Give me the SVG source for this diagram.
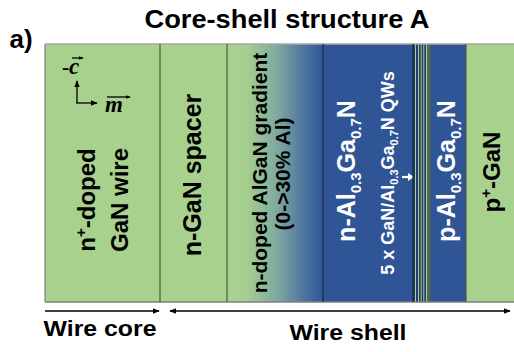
<svg xmlns="http://www.w3.org/2000/svg" width="514" height="352" viewBox="0 0 514 352">
<style>
.t{font-family:"Liberation Sans",Arial,sans-serif;font-weight:bold;text-anchor:middle}
.k{fill:#000}
.w{fill:#fff}
.m{font-family:"Liberation Serif","Times New Roman",serif;font-style:italic;font-weight:bold;fill:#000}
.green{fill:#a9d18e}
.blue{fill:#2f5597}
.conn{stroke:#000;stroke-width:1.3;fill:none}
</style>
<defs>
<linearGradient id="grad" x1="0" y1="0" x2="1" y2="0">
<stop offset="0" stop-color="#a9d18e"/>
<stop offset="0.2" stop-color="#a6cf90"/>
<stop offset="0.52" stop-color="#7fa9a0"/>
<stop offset="0.82" stop-color="#4a72a0"/>
<stop offset="1" stop-color="#2f5597"/>
</linearGradient>
<marker id="ah" viewBox="0 0 10 10" refX="9" refY="5" markerWidth="7" markerHeight="7" markerUnits="userSpaceOnUse" orient="auto-start-reverse">
<path d="M0,1 L10,5 L0,9 z" fill="#000"/>
</marker>
<marker id="ahs" viewBox="0 0 10 10" refX="9" refY="5" markerWidth="5" markerHeight="5" markerUnits="userSpaceOnUse" orient="auto-start-reverse">
<path d="M0,1 L10,5 L0,9 z" fill="#000"/>
</marker>
</defs>

<text class="t k" x="287" y="28" font-size="25" textLength="285" lengthAdjust="spacingAndGlyphs">Core-shell structure A</text>
<text class="t k" x="21" y="48" font-size="26">a)</text>

<g id="core">
<rect class="green" x="45" y="44" width="115" height="258"/>
<text class="t k" font-size="24" transform="translate(95,200) rotate(-90)">n<tspan font-size="15" dy="-9">+</tspan><tspan dy="9">-doped</tspan></text>
<text class="t k" font-size="24" transform="translate(128,200) rotate(-90)">GaN wire</text>
<text x="62" y="74" font-family="Liberation Serif,serif" font-weight="bold" font-size="22" fill="#000">-</text>
<text class="m" x="69" y="74" font-size="23">c</text>
<text class="m" x="105" y="112" font-size="23">m</text>
</g>

<g id="spacer">
<rect class="green" x="160" y="44" width="67" height="258"/>
<text class="t k" font-size="25" transform="translate(201,175) rotate(-90)">n-GaN spacer</text>
</g>

<g id="gradient">
<rect fill="url(#grad)" x="227" y="44" width="96" height="258"/>
<text class="t k" font-size="21" transform="translate(267,173) rotate(-90)">n-doped AlGaN gradient</text>
<text class="t k" font-size="21" transform="translate(290,174) rotate(-90)">(0-&gt;30% Al)</text>
</g>

<g id="n-AlGaN">
<rect class="blue" x="323" y="44" width="90" height="258"/>
<text class="t w" font-size="25" transform="translate(355,171) rotate(-90)">n-Al<tspan font-size="15" dy="6">0.3</tspan><tspan dy="-6">Ga</tspan><tspan font-size="15" dy="6">0.7</tspan><tspan dy="-6">N</tspan></text>
<text class="t w" font-size="18" transform="translate(394,173) rotate(-90)">5 x GaN/Al<tspan font-size="11" dy="4">0.3</tspan><tspan dy="-4">Ga</tspan><tspan font-size="11" dy="4">0.7</tspan><tspan dy="-4">N QWs</tspan></text>
<path d="M402,177 H409" stroke="#fff" stroke-width="2.2"/>
<path d="M408,173 L414,177 L408,181 z" fill="#fff"/>
</g>

<g id="QWs">
<rect fill="#1f3a6b" x="413" y="44" width="18" height="258"/>
<rect class="green" x="415" y="44" width="1" height="258"/>
<rect class="green" x="418" y="44" width="1" height="258"/>
<rect class="green" x="420.7" y="44" width="1" height="258"/>
<rect class="green" x="423.3" y="44" width="1" height="258"/>
<rect class="green" x="426" y="44" width="1" height="258"/>
<rect fill="#4e6a5a" x="427" y="44" width="3.7" height="258"/>
</g>

<g id="p-AlGaN">
<rect class="blue" x="431" y="44" width="35" height="258"/>
<text class="t w" font-size="25" transform="translate(455,171) rotate(-90)">p-Al<tspan font-size="15" dy="6">0.3</tspan><tspan dy="-6">Ga</tspan><tspan font-size="15" dy="6">0.7</tspan><tspan dy="-6">N</tspan></text>
</g>

<g id="p-GaN">
<rect class="green" x="466" y="44" width="48" height="258"/>
<text class="t k" font-size="24" transform="translate(500,172) rotate(-90)">p<tspan font-size="15" dy="-9">+</tspan><tspan dy="9">-GaN</tspan></text>
</g>

<g id="borders" fill="none">
<path d="M45,44 H514" stroke="#a6a6a6" stroke-width="1.5"/>
<path d="M45,302 H514" stroke="#7f7f7f" stroke-width="1.5"/>
<path d="M45,44 V302" stroke="#7f7f7f" stroke-width="1.2"/>
<path d="M160,44 V302" stroke="#4d5a45" stroke-width="1.2"/>
<path d="M227,44 V302" stroke="#4d5a45" stroke-width="1.2"/>
<path d="M323,44 V302" stroke="#1a2a4a" stroke-width="1.2"/>
<path d="M413,44 V302" stroke="#1a2a4a" stroke-width="1.2"/>
<path d="M466,44 V302" stroke="#555" stroke-width="1.2"/>
</g>

<g id="connectors">
<path class="conn" d="M77,100 V81" stroke-width="1.6" marker-end="url(#ah)"/>
<path class="conn" d="M76.2,103 H97" stroke-width="1.6" marker-end="url(#ah)"/>
<path class="conn" d="M72,58 H83" stroke-width="1" marker-end="url(#ahs)"/>
<path class="conn" d="M107,97 H130" stroke-width="1" marker-end="url(#ahs)"/>
<path class="conn" d="M77,100 V103" stroke-width="1.6"/>
<path class="conn" d="M45,311 H159" marker-end="url(#ah)"/>
<path class="conn" d="M170,311 H510" marker-start="url(#ah)" marker-end="url(#ah)"/>
</g>

<text class="t k" x="100" y="336" font-size="22" textLength="113" lengthAdjust="spacingAndGlyphs">Wire core</text>
<text class="t k" x="348" y="340" font-size="22" textLength="117" lengthAdjust="spacingAndGlyphs">Wire shell</text>
</svg>
